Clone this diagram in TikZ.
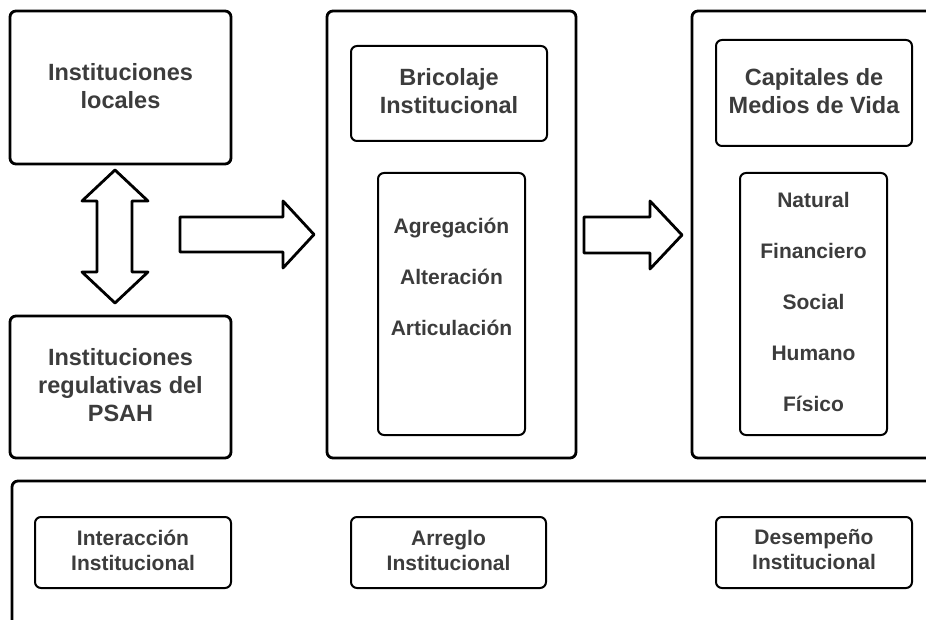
\documentclass[tikz,border=0pt]{standalone}
\usepackage{fontspec}
\setmainfont{Liberation Sans}
\definecolor{txt}{HTML}{3C3C3C}
\begin{document}
\begin{tikzpicture}[x=1pt,y=-1pt,
  outerbox/.style={draw=black, line width=2.8pt, rounded corners=6pt, fill=white, inner sep=0pt},
  innerbox/.style={draw=black, line width=2pt, rounded corners=6pt, fill=white, inner sep=0pt},
  ttl/.style={text=txt, font=\bfseries\fontsize{23.5}{28}\selectfont, align=center},
  lst/.style={text=txt, font=\bfseries\fontsize{21}{51}\selectfont, align=center},
  btm/.style={text=txt, font=\bfseries\fontsize{21}{25}\selectfont, align=center},
  blockarrow/.style={draw=black, line width=2.8pt, line join=round, fill=white}]
\useasboundingbox (0,0) rectangle (926,620);
\clip (0,0) rectangle (926,620);
\fill[white] (0,0) rectangle (926,620);

% left column
\node[outerbox, minimum width=221pt, minimum height=153pt] (loc) at (120.5,87.5) {};
\node[ttl] (loct) at (120.5,86) {Instituciones\\locales};
\node[outerbox, minimum width=221pt, minimum height=142pt] (reg) at (120.5,387) {};
\node[ttl] (regt) at (120.5,385) {Instituciones\\regulativas del\\PSAH};

% double arrow
\draw[blockarrow] (115,170) -- (148,201) -- (132,201) -- (132,272) -- (148,272) -- (115,303)
  -- (82,272) -- (97,272) -- (97,201) -- (82,201) -- cycle;

% arrow 1
\draw[blockarrow] (180,217) -- (283,217) -- (283,201) -- (314,234.5) -- (283,268) -- (283,252) -- (180,252) -- cycle;

% middle column
\node[outerbox, minimum width=249pt, minimum height=447pt] (mid) at (451.5,234.5) {};
\node[innerbox, minimum width=196pt, minimum height=95pt] (bric) at (449,93.5) {};
\node[ttl] (brict) at (449,91.5) {Bricolaje\\Institucional};
\node[innerbox, minimum width=147pt, minimum height=262pt] (mlist) at (451.5,304) {};
\node[lst] (mlistt) at (451.5,277) {Agregación\\Alteración\\Articulación};

% arrow 2
\draw[blockarrow] (584,217) -- (650,217) -- (650,201) -- (682,235) -- (650,269) -- (650,253) -- (584,253) -- cycle;

% right column
\node[outerbox, minimum width=268pt, minimum height=447pt] (rgt) at (826,234.5) {};
\node[innerbox, minimum width=196pt, minimum height=106pt] (cap) at (814,93) {};
\node[ttl] (capt) at (814,91.5) {Capitales de\\Medios de Vida};
\node[innerbox, minimum width=147pt, minimum height=262pt] (rlist) at (813.5,304) {};
\node[lst] (rlistt) at (813.5,302) {Natural\\Financiero\\Social\\Humano\\Físico};

% bottom band
\node[outerbox, minimum width=948pt, minimum height=169pt] (band) at (486,565.5) {};
\node[innerbox, minimum width=196pt, minimum height=71pt] (inter) at (133,552.5) {};
\node[btm] (intert) at (133,550) {Interacción\\Institucional};
\node[innerbox, minimum width=195pt, minimum height=71pt] (arr) at (448.5,552.5) {};
\node[btm] (arrt) at (448.5,550) {Arreglo\\Institucional};
\node[innerbox, minimum width=196pt, minimum height=71pt] (des) at (814,552.5) {};
\node[btm] (dest) at (814,550) {Desempeño\\Institucional};
\end{tikzpicture}
\end{document}
